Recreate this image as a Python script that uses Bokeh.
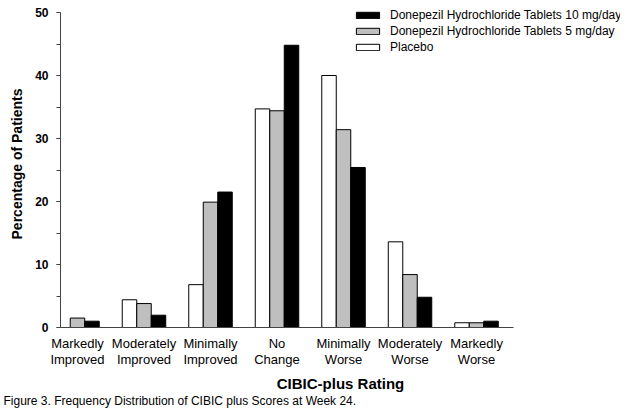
from bokeh.plotting import figure
from bokeh.models import (ColumnDataSource, Range1d, FixedTicker, SingleIntervalTicker,
                          Legend, LegendItem, Title)
from bokeh.transform import dodge
from bokeh.embed import file_html
from bokeh.resources import INLINE

categories = ["Markedly\nImproved", "Moderately\nImproved", "Minimally\nImproved", "No\nChange",
              "Minimally\nWorse", "Moderately\nWorse", "Markedly\nWorse"]
placebo = [0.0, 4.4, 6.8, 34.7, 40.0, 13.6, 0.75]
mg5 = [1.5, 3.8, 19.9, 34.4, 31.4, 8.4, 0.75]
mg10 = [1.0, 1.95, 21.5, 44.8, 25.4, 4.8, 1.0]

FONT = "Liberation Sans"
idx = list(range(len(categories)))
src = ColumnDataSource(dict(idx=idx, placebo=placebo, mg5=mg5, mg10=mg10))

W, H = 624, 408
p = figure(width=W, height=H, output_backend="svg", toolbar_location=None,
           x_range=Range1d(-0.2556, 8.165), y_range=Range1d(0, 51.905),
           min_border_left=60, min_border_right=4, min_border_top=0, min_border_bottom=H - 327)
p.outline_line_color = None
p.grid.visible = False
p.background_fill_color = "white"
p.border_fill_color = "white"

bw = 0.218
r_pl = p.vbar(x=dodge("idx", -bw, range=p.x_range), top="placebo", width=bw, source=src,
              fill_color="white", line_color="black", line_width=1)
r_5 = p.vbar(x="idx", top="mg5", width=bw, source=src,
             fill_color="#bfbfbf", line_color="black", line_width=1)
r_10 = p.vbar(x=dodge("idx", bw, range=p.x_range), top="mg10", width=bw, source=src,
              fill_color="black", line_color="black", line_width=1)

# y axis
ya = p.yaxis[0]
ya.ticker = SingleIntervalTicker(interval=10, num_minor_ticks=2)
ya.bounds = (0, 50)
ya.axis_label = "Percentage of Patients"
ya.axis_label_text_font = FONT
ya.axis_label_text_font_size = "14px"
ya.axis_label_text_font_style = "bold"
ya.axis_label_text_color = "black"
ya.axis_label_standoff = 7
ya.major_label_text_font = FONT
ya.major_label_text_font_size = "12px"
ya.major_label_text_font_style = "bold"
ya.major_label_text_color = "black"
ya.major_tick_out = 4
ya.major_tick_in = 0
ya.minor_tick_out = 4
ya.minor_tick_in = 0
ya.major_label_standoff = 8
ya.axis_line_color = "#444444"
ya.major_tick_line_color = "#444444"
ya.minor_tick_line_color = "#444444"

# x axis
xa = p.xaxis[0]
xa.ticker = FixedTicker(ticks=idx)
xa.bounds = (-0.2556, 6.556)
xa.major_label_overrides = {i: c for i, c in zip(idx, categories)}
xa.axis_label = "CIBIC-plus Rating"
xa.axis_label_text_font = FONT
xa.axis_label_text_font_size = "15px"
xa.axis_label_text_font_style = "bold"
xa.axis_label_text_color = "black"
xa.axis_label_standoff = 5
xa.major_label_text_font = FONT
xa.major_label_text_font_size = "13px"
xa.major_label_text_line_height = 1.1
xa.major_label_text_color = "black"
xa.major_label_standoff = 8
xa.major_tick_out = 0
xa.major_tick_in = 0
xa.minor_tick_out = 0
xa.minor_tick_in = 0
xa.axis_line_color = "#444444"

legend = Legend(items=[
    LegendItem(label="Donepezil Hydrochloride Tablets 10 mg/day", renderers=[r_10]),
    LegendItem(label="Donepezil Hydrochloride Tablets 5 mg/day", renderers=[r_5]),
    LegendItem(label="Placebo", renderers=[r_pl]),
], location=(293, 272))
legend.border_line_color = None
legend.background_fill_alpha = 0
legend.padding = 0
legend.margin = 0
legend.spacing = 0
legend.glyph_width = 29
legend.glyph_height = 8
legend.label_height = 16
legend.label_standoff = 8
legend.label_text_font = FONT
legend.label_text_font_size = "12px"
legend.label_text_color = "black"
p.add_layout(legend)

cap = Title(text="Figure 3. Frequency Distribution of CIBIC plus Scores at Week 24.",
            align="left", offset=-57, text_font=FONT, text_font_size="12px",
            text_font_style="normal", text_color="black", standoff=-8)
p.add_layout(cap, "below")

open("out.html", "w").write(file_html(p, INLINE))
